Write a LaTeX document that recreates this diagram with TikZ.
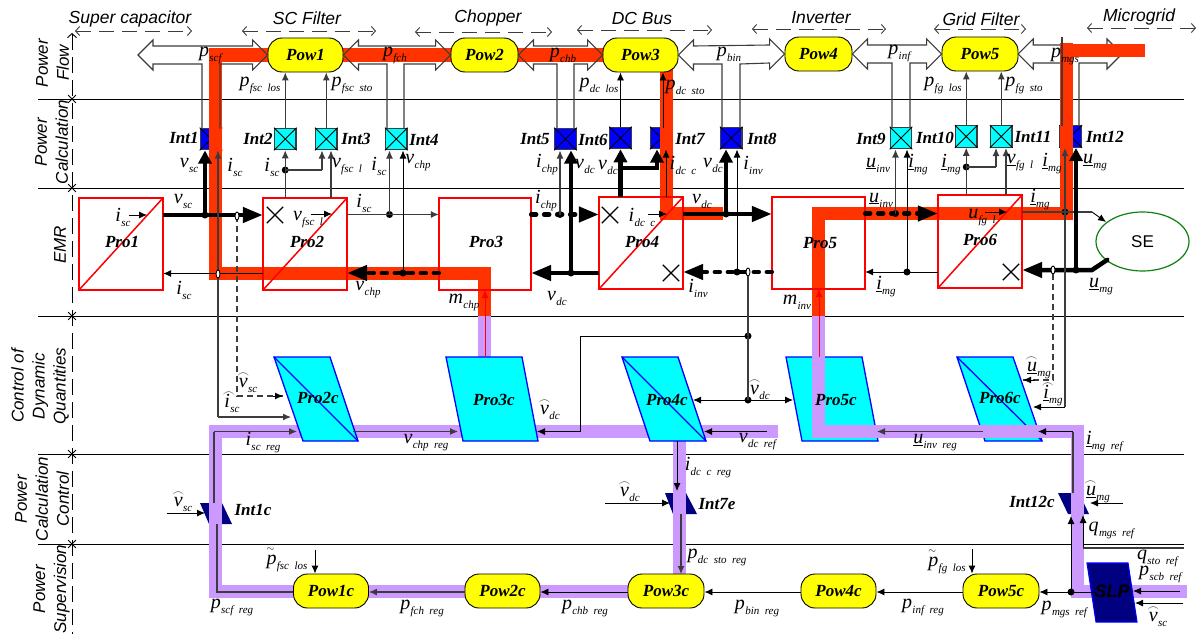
\documentclass[tikz,border=0pt]{standalone}
\usepackage{fontspec}
\setmainfont{Liberation Serif}
\setsansfont{Liberation Sans}
\usetikzlibrary{arrows.meta,shapes.geometric,shapes.misc,calc}
\definecolor{redb}{HTML}{FF3300}
\definecolor{purp}{HTML}{CC99FF}
\definecolor{yel}{HTML}{FFFF00}
\definecolor{cy}{HTML}{00FFFF}
\definecolor{bl}{HTML}{0000FF}
\definecolor{nvy}{HTML}{000080}
\definecolor{grn}{HTML}{108010}
\definecolor{boxr}{HTML}{FF0000}
\definecolor{wg}{HTML}{3C3C3C}
\newcounter{lbc}
\newcommand\Vs[2]{\textit{#1}\kern0.3pt\raisebox{-5pt}{\fontsize{11}{11}\selectfont\textit{#2}}}
\newcommand\Hs[3]{\rlap{\raisebox{#3}{\kern-1.5pt\fontsize{12}{12}\selectfont$\frown$}}\Vs{#1}{#2}}
\newcommand\Ts[2]{\rlap{\raisebox{13pt}{\fontsize{10}{10}\selectfont$\sim$}}\Vs{#1}{#2}}
\newcommand\lab[3]{\stepcounter{lbc}\node[lb] (L\arabic{lbc}) at (#1,#2) {#3};}
\newcommand\intx[1]{\draw[line width=.9pt,black] (#1.south west) -- (#1.north east) (#1.north west) -- (#1.south east);}
\newcommand\prox[1]{\draw[prl,fill=none] (#1.south west) rectangle (#1.north east);\draw[prl] (#1.south west) -- (#1.north east);}
\newcommand\hfillarrow[2]{\fill[white] (#1) -- ++(15,-15) -- ++(0,6) -- ($(#2)+(-15,-9)$) -- ++(0,-6) -- (#2) -- ++(-15,15) -- ++(0,-6) -- ($(#1)+(15,9)$) -- ++(0,6) -- cycle;}
\newcommand\hlinearrow[4]{\coordinate (aux) at ($(#1)+(0,9)$);\draw[hol] (#4) -- (#4 |- aux) -- ($(#2)+(-15,9)$) -- ++(0,6) -- (#2) -- ++(-15,-15) -- ++(0,6) -- ($(#1)+(15,-9)$) -- ++(0,-6) -- (#1) -- ++(15,15) -- ++(0,-6) -- (#3 |- aux) -- (#3);}
\tikzset{
  x=1pt,y=-1pt,
  lb/.style={inner sep=0pt,font=\fontsize{20}{20}\selectfont},
  ttl/.style={inner sep=0pt,font=\sffamily\itshape\fontsize{17.5}{17.5}\selectfont},
  rotl/.style={inner sep=0pt,rotate=90,align=center,font=\sffamily\itshape\fontsize{17}{21}\selectfont},
  bname/.style={inner sep=0pt,font=\bfseries\itshape\fontsize{17}{17}\selectfont},
  gridl/.style={line width=.9pt,black},
  axl/.style={line width=.9pt,black,dash pattern=on 16pt off 7pt},
  spn/.style={line width=.9pt,wg,dash pattern=on 15pt off 8pt,{Straight Barb[length=4pt,width=9pt]}-{Straight Barb[length=4pt,width=9pt]}},
  axm/.style={cross out,draw=black,line width=.8pt,minimum size=7pt,inner sep=0pt},
  hol/.style={line width=1.1pt,wg,line join=miter},
  intb/.style={rectangle,draw=wg,line width=1.1pt,minimum width=21.5pt,minimum height=21.5pt,inner sep=0pt},
  prb/.style={rectangle,fill=white,inner sep=0pt},
  prl/.style={line width=1.5pt,boxr},
  pows/.style={rectangle,rounded corners=14pt,fill=yel,draw=black,line width=.9pt,minimum height=34pt,inner sep=0pt,font=\bfseries\itshape\fontsize{17}{17}\selectfont},
  redp/.style={line width=13pt,redb,line join=miter,line cap=butt},
  purpp/.style={line width=13pt,purp,line join=miter,line cap=butt},
  prc/.style={fill=cy,draw=bl,line width=1.3pt},
  xm/.style={cross out,draw=black,line width=1.3pt,minimum size=15pt,inner sep=0pt},
  wire/.style={line width=1.1pt,wg,-{Latex[length=8pt,width=7pt]}},
  wiren/.style={line width=1.1pt,wg},
  wirek/.style={line width=.9pt,black,-{Latex[length=8pt,width=7pt]}},
  wiredash/.style={line width=1.1pt,wg,dash pattern=on 6pt off 4pt},
  thk/.style={line width=4.5pt,black},
  thku/.style={line width=4.5pt,black,-{Triangle[length=13pt,width=13pt]}},
  bigt/.style={-{Triangle[length=20pt,width=15pt]}},
  thkd/.style={line width=4.5pt,black,dash pattern=on 5pt off 8pt,line cap=round},
  jd/.style={circle,fill=black,minimum size=7pt,inner sep=0pt},
  sm/.style={ellipse,fill=white,draw=black,line width=.9pt,minimum width=4pt,minimum height=8pt,inner sep=0pt},
}
\begin{document}
\begin{tikzpicture}
\fill[white] (0,0) rectangle (1198,634);
\useasboundingbox (0,0) rectangle (1198,634);
% grid
\foreach \yy in {99,188,316,454,544}{\draw[gridl] (38,\yy) -- (1184,\yy);\node[axm] at (72,\yy) {};}
\draw[axl,{Straight Barb[length=4pt,width=9pt]}-] (72,33) -- (72,634);
\draw[spn] (75,31) -- (192,31);
\draw[spn] (242,31) -- (376,31);
\draw[spn] (415,32) -- (552,32);
\draw[spn] (577,30) -- (712,30);
\draw[spn] (752,29) -- (886,29);
\draw[spn] (934,29) -- (1026,29);
\draw[spn] (1087,28) -- (1196,28);
\node[ttl] (tSC) at (130,19) {Super capacitor};
\node[ttl] (tFi) at (307,18) {SC Filter};
\node[ttl] (tCh) at (488,18) {Chopper};
\node[ttl] (tDC) at (642,18) {DC Bus};
\node[ttl] (tIn) at (821,18) {Inverter};
\node[ttl] (tGF) at (981,19) {Grid Filter};
\node[ttl] (tMG) at (1139,17) {Microgrid};
\node[rotl] (rA) at (52.5,63) {Power\\Flow};
\node[rotl] (rB) at (51.5,142) {Power\\Calculation};
\node[rotl] (rC) at (60,245) {EMR};
\node[rotl] (rD) at (40,386) {Control of\\Dynamic\\Quantities};
\node[rotl] (rE) at (42,499) {Power\\Calculation\\Control};
\node[rotl] (rF) at (51.5,589) {Power\\Supervision};
% Pow placement (top) is declared hidden first for anchors
\path (305.5,55) node[minimum width=75pt,minimum height=34pt,inner sep=0pt] (aPow1) {};
\path (484.5,55) node[minimum width=67pt,minimum height=34pt,inner sep=0pt] (aPow2) {};
\path (640.5,55) node[minimum width=75pt,minimum height=34pt,inner sep=0pt] (aPow3) {};
\path (818.5,54) node[minimum width=67pt,minimum height=34pt,inner sep=0pt] (aPow4) {};
\path (980,54) node[minimum width=76pt,minimum height=34pt,inner sep=0pt] (aPow5) {};
\coordinate (tipL) at (138,55);
\coordinate (tipR) at (1122,54);
\coordinate (pa1) at (202,128.5); \coordinate (pa2) at (220,128.5);
\coordinate (pb1) at (387,128.5); \coordinate (pb2) at (404,128.5);
\coordinate (pc1) at (557,128.5); \coordinate (pc2) at (574,128.5);
\coordinate (pd1) at (722,127.5); \coordinate (pd2) at (740,127.5);
\coordinate (pe1) at (892,128); \coordinate (pe2) at (910,128);
\coordinate (pf1) at (1062,126); \coordinate (pf2) at (1079,126);
\hfillarrow{tipL}{aPow1.west}
\hfillarrow{aPow1.east}{aPow2.west}
\hfillarrow{aPow2.east}{aPow3.west}
\hfillarrow{aPow3.east}{aPow4.west}
\hfillarrow{aPow4.east}{aPow5.west}
\hfillarrow{aPow5.east}{tipR}
\hlinearrow{aPow5.east}{tipR}{pf1}{pf2}
% Int boxes
\node[intb,fill=bl] (Int1) at (211,139) {};
\node[intb,fill=cy] (Int2) at (285.25,139) {};
\node[intb,fill=cy] (Int3) at (326.25,139) {};
\node[intb,fill=cy] (Int4) at (396.25,139) {};
\node[intb,fill=bl] (Int5) at (565.5,139) {};
\node[intb,fill=bl] (Int6) at (620.5,138) {};
\node[intb,fill=bl] (Int7) at (661.25,138) {};
\node[intb,fill=bl] (Int8) at (731.25,138) {};
\node[intb,fill=cy] (Int9) at (901,138) {};
\node[intb,fill=cy] (Int10) at (966.25,136.5) {};
\node[intb,fill=cy] (Int11) at (1001.25,136.5) {};
\node[intb,fill=bl] (Int12) at (1070.75,136.5) {};
\foreach \nn in {Int1,Int2,Int3,Int4,Int5,Int6,Int7,Int8,Int9,Int10,Int11,Int12}{\intx{\nn}}
% Pro boxes
\node[prb,minimum width=84pt,minimum height=92pt] (Pro1) at (121,244) {};
\node[prb,minimum width=84pt,minimum height=92pt] (Pro2) at (305,244) {};
\node[prb,minimum width=92pt,minimum height=92pt] (Pro3) at (485,244) {};
\node[prb,minimum width=84pt,minimum height=92pt] (Pro4) at (641,243) {};
\node[prb,minimum width=93pt,minimum height=92pt] (Pro5) at (818.5,243) {};
\node[prb,minimum width=84pt,minimum height=93pt] (Pro6) at (980,241.5) {};
% inverse blocks under purple
\fill[nvy] (200,503) -- (222,503) -- (232,524) -- (209,524) -- cycle;
\fill[nvy] (665,493) -- (686,493) -- (697,514) -- (673,514) -- cycle;
\fill[nvy] (1058,493) -- (1079,493) -- (1089,514) -- (1068,514) -- cycle;
% thick power paths
\draw[redp] (610,55) -- (215.5,55) -- (215.5,273.5) -- (484.5,273.5) -- (484.5,316);
\draw[purpp] (484.5,316) -- (484.5,357);
\draw[redp] (666,65) -- (666,213.5) -- (723,213.5);
\draw[redp] (1060,51) -- (1145,51);
\draw[redp] (1066.5,43) -- (1066.5,213.5) -- (818.5,213.5) -- (818.5,316);
\draw[purpp] (778,431.5) -- (215.5,431.5) -- (215.5,591) -- (679,591) -- (679,438);
% control blocks
\draw[prc] (274,357) -- (330,357) -- (358,441) -- (303,441) -- cycle;
\draw[prc,fill=none] (274,357) -- (358,441);
\draw[prc] (446,357) -- (522,357) -- (538,441) -- (463,441) -- cycle;
\draw[prc] (622,357) -- (678,357) -- (706,441) -- (650,441) -- cycle;
\draw[prc,fill=none] (622,357) -- (706,441);
\draw[prc] (786,357) -- (862,357) -- (878,441) -- (802,441) -- cycle;
\draw[prc] (957,357) -- (1013,357) -- (1042,441) -- (985,441) -- cycle;
\draw[prc,fill=none] (957,357) -- (1042,441);
\draw[purpp] (818.5,316) -- (818.5,431.5) -- (1077.5,431.5) -- (1077.5,591.5) -- (1187,591.5);
\draw[fill=nvy,draw=bl,line width=1.1pt] (1087,563) -- (1128,563) -- (1137,622) -- (1096,622) -- cycle;
% Pro outlines
\foreach \nn in {Pro1,Pro2,Pro4,Pro6}{\prox{\nn}}
\draw[prl] (Pro3.south west) rectangle (Pro3.north east);
\draw[prl] (Pro5.south west) rectangle (Pro5.north east);
\node[xm] (x1) at (275,215) {};
\node[xm] (x2) at (610,215) {};
\node[xm] (x3) at (671,273) {};
\node[xm] (x4) at (1011,272) {};
% Pow nodes
\node[pows,minimum width=75pt] (Pow1) at (305.5,55) {Pow1};
\node[pows,minimum width=67pt] (Pow2) at (484.5,55) {Pow2};
\node[pows,minimum width=75pt] (Pow3) at (640.5,55) {Pow3};
\node[pows,minimum width=67pt] (Pow4) at (818.5,54) {Pow4};
\node[pows,minimum width=76pt] (Pow5) at (980,54) {Pow5};
\node[pows,minimum width=75pt] (Pow1c) at (331,591) {Pow1c};
\node[pows,minimum width=75pt] (Pow2c) at (502.5,591) {Pow2c};
\node[pows,minimum width=76pt] (Pow3c) at (666,591) {Pow3c};
\node[pows,minimum width=75pt] (Pow4c) at (838.5,591) {Pow4c};
\node[pows,minimum width=76pt] (Pow5c) at (1001,591) {Pow5c};
\node[ellipse,fill=white,draw=grn,line width=1.2pt,minimum width=93pt,minimum height=59pt,inner sep=0pt,font=\sffamily\fontsize{17}{17}\selectfont] (SE) at (1142.5,241.5) {SE};
% hollow arrows
\hlinearrow{tipL}{Pow1.west}{pa1}{pa2}
\hlinearrow{Pow1.east}{Pow2.west}{pb1}{pb2}
\hlinearrow{Pow2.east}{Pow3.west}{pc1}{pc2}
\hlinearrow{Pow3.east}{Pow4.west}{pd1}{pd2}
\hlinearrow{Pow4.east}{Pow5.west}{pe1}{pe2}
\draw[wiren] (pf1) -- (pf1 |- Pow5.north);
% junctions
\node[jd] (jA) at (205,215) {};
\node[jd] (jB) at (389.5,214.5) {};
\node[jd] (jC) at (403,273) {};
\node[jd] (jD) at (285.25,170) {};
\node[jd] (jE) at (560,214.5) {};
\node[jd] (jF) at (571,273) {};
\node[jd] (jH) at (726,214) {};
\node[jd] (jI) at (737,272) {};
\node[jd] (jJ) at (895.5,213.5) {};
\node[jd] (jK) at (907,272) {};
\node[jd] (jL) at (966.25,167) {};
\node[jd] (jM) at (1065,212) {};
\node[jd] (jN) at (1076,270) {};
\node[jd] (jO) at (748,336) {};
\node[jd] (jP) at (748,400) {};
\node[jd] (jQ) at (1071,592) {};
% ports
\coordinate (i1a) at (205,150.5); \coordinate (i1b) at (218,150.5);
\coordinate (i3a) at (322,150.5); \coordinate (i3b) at (331,150.5);
\coordinate (i4a) at (389.5,150.5); \coordinate (i4b) at (403,150.5);
\coordinate (i5a) at (560,150.5); \coordinate (i5b) at (571,150.5);
\coordinate (i7a) at (657,149.5); \coordinate (i7b) at (666,149.5);
\coordinate (i8a) at (726,149.5); \coordinate (i8b) at (737,149.5);
\coordinate (i9a) at (895.5,149.5); \coordinate (i9b) at (907,149.5);
\coordinate (i11a) at (996,148); \coordinate (i11b) at (1006,148);
\coordinate (i12a) at (1065,148); \coordinate (i12b) at (1076,148);
\coordinate (brk) at (620.5,168);
\coordinate (c2a) at (218,417); \coordinate (c2b) at (291,417);
\coordinate (c2d) at (237,396); \coordinate (c2e) at (283,396);
\coordinate (p2r) at (297,431.5); \coordinate (c2l) at (214,431.5);
\coordinate (i1cT) at (214,503); \coordinate (i1cB) at (217,524);
\coordinate (lftc) at (217,592);
\coordinate (p2c) at (353,431.5); \coordinate (p3l) at (458,431.5);
\coordinate (p3r) at (537,431.5); \coordinate (mk) at (580,336); \coordinate (ml) at (580,431.5);
\coordinate (p4a) at (693,400); \coordinate (p5a) at (793,400);
\coordinate (p4r) at (704,431.5); \coordinate (rf4) at (767,431.5);
\coordinate (p4b) at (677,441); \coordinate (i7eT) at (677,491);
\coordinate (i7eB) at (681,514); \coordinate (i7eC) at (681,574);
\coordinate (p3t) at (485,357); \coordinate (p5t) at (819,357);
\coordinate (p6a) at (1053,380); \coordinate (p6b) at (1023,380);
\coordinate (p6c) at (1065,407); \coordinate (p6d) at (1033,407);
\coordinate (p6e) at (1073,431.5); \coordinate (p6f) at (1038,431.5);
\coordinate (i12cT) at (1073,493);
\coordinate (p6g) at (983,431.5); \coordinate (p5r) at (877,431.5);
\coordinate (q1) at (1071,516); \coordinate (q2) at (1083,515); \coordinate (q3) at (1083,548); \coordinate (q4) at (1184,548);
\coordinate (slpL) at (1096,592);
\coordinate (se1) at (1092,212); \coordinate (se2) at (1106,222);
\coordinate (se3) at (1107,260); \coordinate (se4) at (1092,270);
% EMR power row
\draw[thk,bigt] (Pro1.east |- jA) -- (Pro2.west |- jA);
\draw[wirek] (Pro2.west |- 0,273.5) -- (Pro1.east |- 0,273.5);
\draw[wire] (Pro2.east |- jB) -- (Pro3.west |- jB);
\draw[thkd,bigt] (Pro3.west |- jC) -- (Pro2.east |- jC);
\draw[thkd,bigt] (Pro3.east |- jE) -- (Pro4.west |- jE);
\draw[thk,bigt] (Pro4.west |- jF) -- (Pro3.east |- jF);
\draw[thk,bigt] (Pro4.east |- jH) -- (Pro5.west |- jH);
\draw[thkd,bigt] (Pro5.west |- jI) -- (Pro4.east |- jI);
\draw[thkd,bigt] (Pro5.east |- jJ) -- (Pro6.west |- jJ);
\draw[wirek] (Pro6.west |- jK) -- (Pro5.east |- jK);
\draw[thk,bigt] (SE.south west |- se3) -- (se3) -- (se4) -- (Pro6.east |- se4);
\draw[wiren] (Pro6.east |- jM) -- (se1);
\draw[wirek] (se1) -- (se2);
% inner measurement arrows
\coordinate (ma1) at (129,215); \coordinate (ma2) at (147,215);
\coordinate (mb1) at (311,214); \coordinate (mb2) at (332,214);
\coordinate (mc1) at (648,214); \coordinate (mc2) at (667,214);
\coordinate (md1) at (985,212); \coordinate (md2) at (1007,212);
\draw[wirek] (ma1) -- (ma2);
\draw[wirek] (mb1) -- (mb2);
\draw[wirek] (mc1) -- (mc2);
\draw[wirek] (md1) -- (md2);
% Int inputs
\draw[thku] (jA.center) -- (i1a);
\draw[wire] (c2a) -- (i1b);
\draw[wire] (c2a) -- (c2b);
\draw[wiredash] (237,216) -- (c2d) -- (c2e);
\draw[line width=1pt,black,-{Latex[length=8pt,width=7pt]}] ($(c2e)+(-10,0)$) -- (c2e);
\draw[wire] (Int2.south |- Pro2.north) -- (Int2.south);
\draw[wiren] (jD.center) -- (i3a |- jD);
\draw[wire] (i3a |- jD) -- (i3a);
\draw[wire] (i3b |- Pro2.north) -- (i3b);
\draw[wire] (jB.center) -- (i4a);
\draw[wirek] (jC.center) -- (i4b);
\draw[wire] (jE.center) -- (i5a);
\draw[thku] (jF.center) -- (i5b);
\draw[thku] (Int6.south |- Pro4.north) -- (Int6.south);
\draw[thk] (brk) -- (i7a |- brk);
\draw[thku] ($(i7a |- brk)+(0,2.25)$) -- (i7a);
\draw[wirek] (i7b |- Pro4.north) -- (i7b);
\draw[thku] (jH.center) -- (i8a);
\draw[wirek] (jI.center) -- (i8b);
\draw[wire] (jJ.center) -- (i9a);
\draw[wirek] (jK.center) -- (i9b);
\draw[wire] (Int10.south |- Pro6.north) -- (Int10.south);
\draw[wiren] (jL.center) -- (i11a |- jL);
\draw[wire] (i11a |- jL) -- (i11a);
\draw[wire] (i11b |- Pro6.north) -- (i11b);
\draw[wire] (jM.center) -- (i12a);
\draw[thku] (jN.center) -- (i12b);
% Int outputs
\draw[wire] (Int2.north) -- (Int2.north |- Pow1.south);
\draw[wire] (Int3.north) -- (Int3.north |- Pow1.south);
\draw[wirek] (Int6.north) -- (Int6.north |- Pow3.south);
\coordinate (i7t) at (663,127.5);
\draw[wirek] (i7t) -- (i7t |- Pow3.south);
\draw[wire] (Int10.north) -- (Int10.north |- Pow5.south);
\draw[wire] (Int11.north) -- (Int11.north |- Pow5.south);
% small open nodes
\node[sm] (sA) at (237,216) {};
\node[sm] (sB) at (218,274) {};
\node[sm] (sC) at (748,272) {};
\node[sm] (sD) at (1053,270) {};
% Estimations
\draw[wiren] (sC) -- (jP.center);
\draw[wirek] (jP.center) -- (p4a);
\draw[wirek] (jP.center) -- (p5a);
\draw[line width=.9pt,black] (jO.center) -- (mk) -- (ml);
\draw[wirek] (ml) -- (p3r);
\draw[wiredash] (sD) -- (p6a) -- (p6b);
\draw[wirek] ($(p6b)+(12,0)$) -- (p6b);
\draw[wiren] (jM.center) -- (p6c);
\draw[wirek] (p6c) -- (p6d);
\draw[red,line width=1pt,-{Latex[length=8pt,width=7pt]}] (p3t) -- (p3t |- Pro3.south);
\draw[red,line width=1pt,-{Latex[length=8pt,width=7pt]}] (p5t) -- (p5t |- Pro5.south);
% Control chain
\draw[wire] (c2l) -- (p2r);
\draw[wiren] (i1cT) -- (c2l |- i1cT) -- (c2l);
\draw[wire] (p2c) -- (p3l);
\draw[wirek] (rf4) -- (p4r);
\draw[wirek] (p4b) -- (i7eT);
\draw[wire] (i7eB) -- (i7eC);
\draw[wiren] (Pow1c.west |- lftc) -- (lftc) -- (i1cB);
\draw[wire] (Pow2c.west |- 0,592) -- (Pow1c.east |- 0,592);
\draw[wirek] (Pow3c.west |- 0,592) -- (Pow2c.east |- 0,592);
\draw[wirek] (Pow4c.west |- 0,592) -- (Pow3c.east |- 0,592);
\draw[wirek] (Pow5c.west |- 0,592) -- (Pow4c.east |- 0,592);
\draw[wirek] (slpL) -- (Pow5c.east |- slpL);
\draw[wirek] (jQ.center) -- (q1);
\draw[wirek] (q3) -- (q2);
\draw[wiren] (q3) -- (q4);
\draw[wiren] (i12cT) -- (p6e);
\draw[wirek] (p6e) -- (p6f);
\draw[wire] (p6g) -- (p5r);
\coordinate (in1a) at (167,513); \coordinate (in1b) at (205,513);
\coordinate (in2a) at (605,503); \coordinate (in2b) at (670,503);
\coordinate (in3a) at (1123,503); \coordinate (in3b) at (1090,503);
\coordinate (in4a) at (1180,591); \coordinate (in4b) at (1133,591);
\coordinate (in5a) at (1183,603); \coordinate (in5b) at (1135,603);
\coordinate (in6a) at (315,550); \coordinate (in7a) at (972,549);
\draw[wirek] (in1a) -- (in1b);
\draw[wirek] (in2a) -- (in2b);
\draw[wirek] (in3a) -- (in3b);
\draw[wirek] (in4a) -- (in4b);
\draw[wirek] (in5a) -- (in5b);
\draw[wirek] (in6a) -- (in6a |- Pow1c.north);
\draw[wirek] (in7a) -- (in7a |- Pow5c.north);
% names
\node[bname] (nP1) at (122,242) {Pro1};
\node[bname] (nP2) at (307,242) {Pro2};
\node[bname] (nP3) at (486,242) {Pro3};
\node[bname] (nP4) at (642,242) {Pro4};
\node[bname] (nP5) at (820,243) {Pro5};
\node[bname] (nP6) at (980,240) {Pro6};
\node[bname] (n2c) at (318,398) {Pro2c};
\node[bname] (n3c) at (494,400) {Pro3c};
\node[bname] (n4c) at (667,400) {Pro4c};
\node[bname] (n5c) at (836,400) {Pro5c};
\node[bname] (n6c) at (1000,398) {Pro6c};
\node[bname] (nI1) at (184,138) {Int1};
\node[bname] (nI2) at (258,139) {Int2};
\node[bname] (nI3) at (356,139) {Int3};
\node[bname] (nI4) at (424,140) {Int4};
\node[bname] (nI5) at (535,139) {Int5};
\node[bname] (nI6) at (593,140) {Int6};
\node[bname] (nI7) at (690,139) {Int7};
\node[bname] (nI8) at (762,139) {Int8};
\node[bname] (nI9) at (871,139) {Int9};
\node[bname] (nI10) at (935,138) {Int10};
\node[bname] (nI11) at (1033,137) {Int11};
\node[bname] (nI12) at (1105,137) {Int12};
\node[bname] (nI1c) at (253,510) {Int1c};
\node[bname] (nI7e) at (717,504) {Int7e};
\node[bname] (nI12c) at (1032,502) {Int12c};
\node[inner sep=0pt,font=\sffamily\bfseries\itshape\fontsize{18}{18}\selectfont] (nSLP) at (1112,591) {SLP};
% power labels
\lab{211}{55}{\Vs{p}{scf}}
\lab{260}{85}{\Vs{p}{fsc~~los}}
\lab{352}{85}{\Vs{p}{fsc~~sto}}
\lab{395}{55}{\Vs{p}{fch}}
\lab{563}{55}{\Vs{p}{chb}}
\lab{599}{85}{\Vs{p}{dc~~los}}
\lab{685}{87}{\Vs{p}{dc~~sto}}
\lab{729}{54}{\Vs{p}{bin}}
\lab{900}{53}{\Vs{p}{inf}}
\lab{943}{85}{\Vs{p}{fg~~los}}
\lab{1024}{85}{\Vs{p}{fg~~sto}}
\lab{1065}{56}{\Vs{p}{mgs}}
% measure labels
\lab{189}{165}{\Vs{v}{sc}}
\lab{235}{167}{\Vs{i}{sc}}
\lab{272}{167}{\Vs{i}{sc}}
\lab{347}{167}{\Vs{v}{fsc~~l}}
\lab{379}{166}{\Vs{i}{sc}}
\lab{418}{163}{\Vs{v}{chp}}
\lab{547}{165}{\Vs{i}{chp}}
\lab{585}{166}{\Vs{v}{dc}}
\lab{608}{167}{\Vs{v}{dc}}
\lab{683}{165}{\Vs{i}{dc~~c}}
\lab{713}{165}{\Vs{v}{dc}}
\lab{753}{165}{\Vs{i}{inv}}
\lab{878}{165}{\Vs{\underline{u}}{inv}}
\lab{918}{165}{\Vs{\underline{i}}{mg}}
\lab{951}{165}{\Vs{\underline{i}}{mg}}
\lab{1020}{163}{\Vs{\underline{v}}{fg~~l}}
\lab{1052}{164}{\Vs{\underline{i}}{mg}}
\lab{1095}{163}{\Vs{\underline{u}}{mg}}
% EMR labels
\lab{183}{201}{\Vs{v}{sc}}
\lab{123}{217}{\Vs{i}{sc}}
\lab{308}{220}{\Vs{v}{fsc~~l}}
\lab{364}{203}{\Vs{i}{sc}}
\lab{546}{201}{\Vs{i}{chp}}
\lab{642}{217}{\Vs{i}{dc~~c}}
\lab{702}{201}{\Vs{v}{dc}}
\lab{881}{200}{\Vs{\underline{u}}{inv}}
\lab{982}{218}{\Vs{u}{fg~~l}}
\lab{1040}{200}{\Vs{\underline{i}}{mg}}
\lab{184}{290}{\Vs{i}{sc}}
\lab{368}{290}{\Vs{v}{chp}}
\lab{464}{302}{\Vs{m}{chp}}
\lab{557}{298}{\Vs{v}{dc}}
\lab{698}{288}{\Vs{i}{inv}}
\lab{797}{302}{\Vs{m}{inv}}
\lab{886}{287}{\Vs{\underline{i}}{mg}}
\lab{1101}{287}{\Vs{\underline{u}}{mg}}
% estimation labels
\lab{248}{383}{\Hs{v}{sc}{10pt}}
\lab{232}{402}{\Hs{i}{sc}{11pt}}
\lab{760}{390}{\Hs{v}{dc}{10pt}}
\lab{550}{410}{\Hs{v}{dc}{10pt}}
\lab{1039}{368}{\Hs{\underline{u}}{mg}{10pt}}
\lab{1053}{395}{\Hs{\underline{i}}{mg}{11pt}}
% control labels
\lab{263}{443}{\Vs{i}{sc~~reg}}
\lab{426}{443}{\Vs{v}{chp~~reg}}
\lab{758}{442}{\Vs{v}{dc~~ref}}
\lab{935}{443}{\Vs{\underline{u}}{inv~~reg}}
\lab{1105}{442}{\Vs{\underline{i}}{mg~~ref}}
\lab{708}{468}{\Vs{i}{dc~~c~~reg}}
\lab{630}{492}{\Hs{v}{dc}{10pt}}
\lab{183}{502}{\Hs{v}{sc}{10pt}}
\lab{1098}{492}{\Hs{\underline{u}}{mg}{10pt}}
\lab{1112}{530}{\Vs{q}{mgs~~ref}}
\lab{1158}{558}{\Vs{q}{sto~~ref}}
\lab{1161}{574}{\Vs{p}{scb~~ref}}
\lab{1158}{617}{\Hs{v}{sc}{10pt}}
\lab{717}{557}{\Vs{p}{dc~~sto~~reg}}
\lab{287}{560}{\Ts{p}{fsc~~los}}
\lab{947}{562}{\Ts{p}{fg~~los}}
\lab{232}{607}{\Vs{p}{scf~~reg}}
\lab{422}{608}{\Vs{p}{fch~~reg}}
\lab{585}{608}{\Vs{p}{chb~~reg}}
\lab{757}{608}{\Vs{p}{bin~~reg}}
\lab{923}{607}{\Vs{p}{inf~~reg}}
\lab{1065}{609}{\Vs{p}{mgs~~ref}}
\end{tikzpicture}
\end{document}
